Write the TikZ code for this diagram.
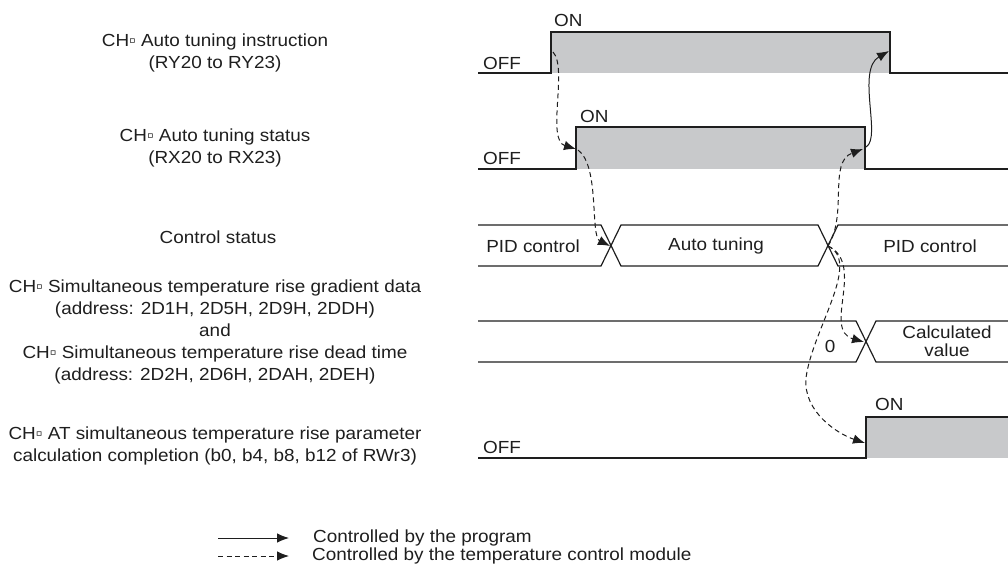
\documentclass[tikz,border=0pt]{standalone}
\usepackage{fontspec}
\setmainfont{Liberation Sans}[FakeStretch=1.08]
\usetikzlibrary{arrows.meta}
\definecolor{fillgray}{HTML}{C8C9CB}
\definecolor{ink}{HTML}{1E1E1E}
\begin{document}
\begin{tikzpicture}[x=1pt,y=-1pt,
  lbl/.style={font=\fontsize{17.5}{22}\selectfont, align=center, inner sep=0pt, text=ink},
  tx/.style={font=\fontsize{17.5}{18}\selectfont, inner sep=0pt, text=ink},
  sig/.style={line width=1.2pt, draw=ink, line join=miter},
  dasharr/.style={draw=ink, dash pattern=on 5pt off 3.5pt, line width=1pt, -{Latex[length=12pt,width=9.5pt]}},
  solarr/.style={draw=ink, line width=1pt, -{Latex[length=12pt,width=9.5pt]}}
]
\useasboundingbox (0,0) rectangle (1008,574);

% left labels
\node[lbl] (l1) at (215,53) {CH▫ Auto tuning instruction\\(RY20 to RY23)};
\node[lbl] (l2) at (215,147.5) {CH▫ Auto tuning status\\(RX20 to RX23)};
\node[lbl] (l3) at (218,237.5) {Control status};
\node[lbl] (l4) at (215,332) {CH▫ Simultaneous temperature rise gradient data\\(address: 2D1H, 2D5H, 2D9H, 2DDH)\\and\\CH▫ Simultaneous temperature rise dead time\\(address: 2D2H, 2D6H, 2DAH, 2DEH)};
\node[lbl] (l5) at (215,446) {CH▫ AT simultaneous temperature rise parameter\\calculation completion (b0, b4, b8, b12 of RWr3)};

% row 1
\fill[fillgray] (551,32) rectangle (890,73);
\draw[sig] (478,73) -- (551,73) -- (551,32) -- (890,32) -- (890,73) -- (1008,73);
\node[tx, anchor=west] (off1) at (483,63) {OFF};
\node[tx, anchor=west] (on1) at (554,20) {ON};

% row 2
\fill[fillgray] (576,127) rectangle (865,169);
\draw[sig] (478,169) -- (576,169) -- (576,127) -- (865,127) -- (865,169) -- (1008,169);
\node[tx, anchor=west] (off2) at (483,158) {OFF};
\node[tx, anchor=west] (on2) at (580,116) {ON};

% row 3
\draw[sig] (478,225) -- (601,225) -- (621,266) -- (818,266) -- (838,225) -- (1008,225);
\draw[sig] (478,266) -- (601,266) -- (621,225) -- (818,225) -- (838,266) -- (1008,266);
\node[tx] (pid1) at (533,246) {PID control};
\node[tx] (at) at (716,246) {Auto tuning};
\node[tx] (pid2) at (930,246) {PID control};

% row 4
\draw[sig] (478,321) -- (856,321) -- (876,362) -- (1008,362);
\draw[sig] (478,362) -- (856,362) -- (876,321) -- (1008,321);
\node[tx] (zero) at (830,346) {0};
\node[tx, align=center] (calc) at (947,341) {Calculated\\value};

% row 5
\fill[fillgray] (866,417) rectangle (1008,458);
\draw[sig] (478,458) -- (866,458) -- (866,417) -- (1008,417);
\node[tx, anchor=west] (off5) at (483,447) {OFF};
\node[tx, anchor=west] (on5) at (875,404) {ON};

% connector end points
\coordinate (r1up) at (553,52);
\coordinate (r2up) at (576,149);
\coordinate (r2upS) at (578,150);
\coordinate (x1) at (610,246);
\coordinate (x2) at (828,246);
\coordinate (r2dn) at (863,149);
\coordinate (r2dnS) at (866,147);
\coordinate (r1dn) at (889,51);
\coordinate (x4) at (864,342);
\coordinate (r5up) at (865,443);

\draw[dasharr] (r1up) .. controls (568,68) and (546,140) .. (r2up);
\draw[dasharr] (r2upS) .. controls (600,166) and (590,236) .. (x1);
\draw[dasharr] (x2) .. controls (848,214) and (828,162) .. (r2dn);
\draw[dasharr] (x2) .. controls (866,264) and (822,330) .. (x4);
\draw[dasharr] (x2) .. controls (862,262) and (812,330) .. (806,378) .. controls (803,412) and (838,434) .. (r5up);
\draw[solarr] (r2dnS) .. controls (882,138) and (856,70) .. (r1dn);

% legend
\coordinate (lg1a) at (218,538);
\coordinate (lg1b) at (289,538);
\coordinate (lg2a) at (218,556);
\coordinate (lg2b) at (289,556);
\draw[solarr] (lg1a) -- (lg1b);
\draw[dasharr] (lg2a) -- (lg2b);
\node[tx, anchor=west] (lgt1) at (313,538) {Controlled by the program};
\node[tx, anchor=west] (lgt2) at (312,556) {Controlled by the temperature control module};
\end{tikzpicture}
\end{document}
